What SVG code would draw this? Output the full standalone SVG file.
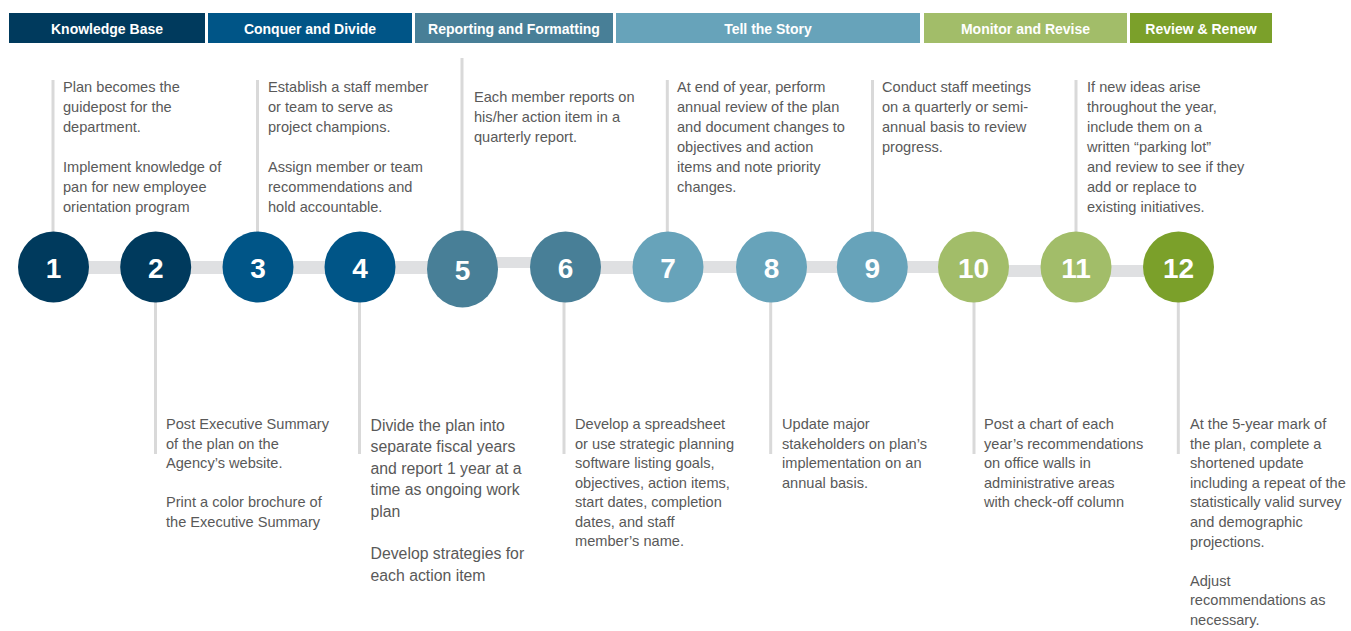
<svg xmlns="http://www.w3.org/2000/svg" width="1351" height="631" viewBox="0 0 1351 631">
<style>
.hdr{font-family:"Liberation Sans",Arial,sans-serif;font-weight:bold;font-size:14px;fill:#fff;text-anchor:middle}
.num{font-family:"Liberation Sans",Arial,sans-serif;font-weight:bold;font-size:28px;fill:#fff;text-anchor:middle}
.txt{font-family:"Liberation Sans",Arial,sans-serif;font-size:14.6px;fill:#595959}
.big{font-family:"Liberation Sans",Arial,sans-serif;font-size:15.8px;fill:#595959}
.vl{stroke:#D9D9D9;stroke-width:3}
.cn{fill:#DFE0E2}
.c1{fill:#003A5D}.c2{fill:#005587}.c3{fill:#487F97}.c4{fill:#67A3BA}.c5{fill:#A2BD69}.c6{fill:#7BA02A}
</style>
<rect width="1351" height="631" fill="#fff"/>
<g id="headers">
<g id="hdr-knowledge"><rect class="c1" x="9" y="13" width="196" height="30"/><text class="hdr" x="107" y="34">Knowledge Base</text></g>
<g id="hdr-conquer"><rect class="c2" x="208" y="13" width="204" height="30"/><text class="hdr" x="310" y="34">Conquer and Divide</text></g>
<g id="hdr-reporting"><rect class="c3" x="415" y="13" width="198" height="30"/><text class="hdr" x="514" y="34">Reporting and Formatting</text></g>
<g id="hdr-story"><rect class="c4" x="616" y="13" width="304" height="30"/><text class="hdr" x="768" y="34">Tell the Story</text></g>
<g id="hdr-monitor"><rect class="c5" x="924" y="13" width="203" height="30"/><text class="hdr" x="1025.5" y="34">Monitor and Revise</text></g>
<g id="hdr-review"><rect class="c6" x="1130" y="13" width="142" height="30"/><text class="hdr" x="1201" y="34">Review &amp; Renew</text></g>
</g>
<g id="connectors">
<rect class="cn" x="88" y="261" width="34" height="13"/>
<rect class="cn" x="190" y="261" width="34" height="13"/>
<rect class="cn" x="292" y="261" width="34" height="13"/>
<rect class="cn" x="394" y="261" width="35" height="13"/>
<rect class="cn" x="496" y="257" width="36" height="11"/>
<rect class="cn" x="599" y="261" width="35" height="13"/>
<rect class="cn" x="702" y="261" width="36" height="12"/>
<rect class="cn" x="805" y="261" width="34" height="12"/>
<rect class="cn" x="906" y="261" width="34" height="12"/>
<rect class="cn" x="1008" y="265" width="34" height="12"/>
<rect class="cn" x="1110" y="265" width="34" height="12"/>
</g>
<g id="node1">
<line class="vl" x1="53" y1="80" x2="53" y2="232"/>
<circle class="c1" cx="53.5" cy="267" r="35.5"/>
<text class="num" x="53.5" y="277.5">1</text>
<text class="txt"><tspan x="63" y="92">Plan becomes the</tspan><tspan x="63" y="112">guidepost for the</tspan><tspan x="63" y="132">department.</tspan><tspan x="63" y="172">Implement knowledge of</tspan><tspan x="63" y="192">pan for new employee</tspan><tspan x="63" y="212">orientation program</tspan></text>
</g>
<g id="node2">
<line class="vl" x1="155.5" y1="300" x2="155.5" y2="454"/>
<circle class="c1" cx="155.7" cy="267" r="35.5"/>
<text class="num" x="155.7" y="277.5">2</text>
<text class="txt"><tspan x="166" y="429">Post Executive Summary</tspan><tspan x="166" y="448.5">of the plan on the</tspan><tspan x="166" y="468">Agency’s website.</tspan><tspan x="166" y="507">Print a color brochure of</tspan><tspan x="166" y="526.5">the Executive Summary</tspan></text>
</g>
<g id="node3">
<line class="vl" x1="257.5" y1="80" x2="257.5" y2="232"/>
<circle class="c2" cx="258" cy="267" r="35.5"/>
<text class="num" x="258" y="277.5">3</text>
<text class="txt"><tspan x="268" y="92">Establish a staff member</tspan><tspan x="268" y="112">or team to serve as</tspan><tspan x="268" y="132">project champions.</tspan><tspan x="268" y="172">Assign member or team</tspan><tspan x="268" y="192">recommendations and</tspan><tspan x="268" y="212">hold accountable.</tspan></text>
</g>
<g id="node4">
<line class="vl" x1="359.5" y1="300" x2="359.5" y2="454"/>
<circle class="c2" cx="360" cy="267" r="35.5"/>
<text class="num" x="360" y="277.5">4</text>
<text class="big"><tspan x="370.5" y="430.5">Divide the plan into</tspan><tspan x="370.5" y="452">separate fiscal years</tspan><tspan x="370.5" y="473.5">and report 1 year at a</tspan><tspan x="370.5" y="495">time as ongoing work</tspan><tspan x="370.5" y="516.5">plan</tspan><tspan x="370.5" y="559">Develop strategies for</tspan><tspan x="370.5" y="580.5">each action item</tspan></text>
</g>
<g id="node5">
<line class="vl" x1="462" y1="58" x2="462" y2="232"/>
<ellipse class="c3" cx="462.5" cy="269" rx="35.5" ry="38.5"/>
<text class="num" x="462.5" y="280">5</text>
<text class="txt"><tspan x="474" y="102">Each member reports on</tspan><tspan x="474" y="122">his/her action item in a</tspan><tspan x="474" y="141.5">quarterly report.</tspan></text>
</g>
<g id="node6">
<line class="vl" x1="564" y1="300" x2="564" y2="454"/>
<circle class="c3" cx="565.5" cy="267" r="35.5"/>
<text class="num" x="565.5" y="277.5">6</text>
<text class="txt"><tspan x="575" y="429">Develop a spreadsheet</tspan><tspan x="575" y="448.5">or use strategic planning</tspan><tspan x="575" y="468">software listing goals,</tspan><tspan x="575" y="487.5">objectives, action items,</tspan><tspan x="575" y="507">start dates, completion</tspan><tspan x="575" y="526.5">dates, and staff</tspan><tspan x="575" y="546">member’s name.</tspan></text>
</g>
<g id="node7">
<line class="vl" x1="667.3" y1="80" x2="667.3" y2="232"/>
<circle class="c4" cx="668" cy="267" r="35.5"/>
<text class="num" x="668" y="277.5">7</text>
<text class="txt"><tspan x="677" y="92">At end of year, perform</tspan><tspan x="677" y="112">annual review of the plan</tspan><tspan x="677" y="132">and document changes to</tspan><tspan x="677" y="152">objectives and action</tspan><tspan x="677" y="172">items and note priority</tspan><tspan x="677" y="192">changes.</tspan></text>
</g>
<g id="node8">
<line class="vl" x1="770.7" y1="300" x2="770.7" y2="454"/>
<circle class="c4" cx="771.5" cy="267" r="35.5"/>
<text class="num" x="771.5" y="277.5">8</text>
<text class="txt"><tspan x="782" y="429">Update major</tspan><tspan x="782" y="448.5">stakeholders on plan’s</tspan><tspan x="782" y="468">implementation on an</tspan><tspan x="782" y="487.5">annual basis.</tspan></text>
</g>
<g id="node9">
<line class="vl" x1="872.5" y1="80" x2="872.5" y2="232"/>
<circle class="c4" cx="872.3" cy="267" r="35.5"/>
<text class="num" x="872.3" y="277.5">9</text>
<text class="txt"><tspan x="882" y="92">Conduct staff meetings</tspan><tspan x="882" y="112">on a quarterly or semi-</tspan><tspan x="882" y="132">annual basis to review</tspan><tspan x="882" y="152">progress.</tspan></text>
</g>
<g id="node10">
<line class="vl" x1="974" y1="300" x2="974" y2="454"/>
<circle class="c5" cx="973.5" cy="267" r="35.5"/>
<text class="num" x="973.5" y="277.5">10</text>
<text class="txt"><tspan x="984" y="429">Post a chart of each</tspan><tspan x="984" y="448.5">year’s recommendations</tspan><tspan x="984" y="468">on office walls in</tspan><tspan x="984" y="487.5">administrative areas</tspan><tspan x="984" y="507">with check-off column</tspan></text>
</g>
<g id="node11">
<line class="vl" x1="1076" y1="80" x2="1076" y2="232"/>
<circle class="c5" cx="1076" cy="267" r="35.5"/>
<text class="num" x="1076" y="277.5">11</text>
<text class="txt"><tspan x="1087" y="92">If new ideas arise</tspan><tspan x="1087" y="112">throughout the year,</tspan><tspan x="1087" y="132">include them on a</tspan><tspan x="1087" y="152">written “parking lot”</tspan><tspan x="1087" y="172">and review to see if they</tspan><tspan x="1087" y="192">add or replace to</tspan><tspan x="1087" y="212">existing initiatives.</tspan></text>
</g>
<g id="node12">
<line class="vl" x1="1178.3" y1="300" x2="1178.3" y2="454"/>
<circle class="c6" cx="1178.5" cy="267" r="35.5"/>
<text class="num" x="1178.5" y="277.5">12</text>
<text class="txt"><tspan x="1190" y="429">At the 5-year mark of</tspan><tspan x="1190" y="448.6">the plan, complete a</tspan><tspan x="1190" y="468.2">shortened update</tspan><tspan x="1190" y="487.8">including a repeat of the</tspan><tspan x="1190" y="507.4">statistically valid survey</tspan><tspan x="1190" y="527">and demographic</tspan><tspan x="1190" y="546.6">projections.</tspan><tspan x="1190" y="585.8">Adjust</tspan><tspan x="1190" y="605.4">recommendations as</tspan><tspan x="1190" y="625">necessary.</tspan></text>
</g>
</svg>
